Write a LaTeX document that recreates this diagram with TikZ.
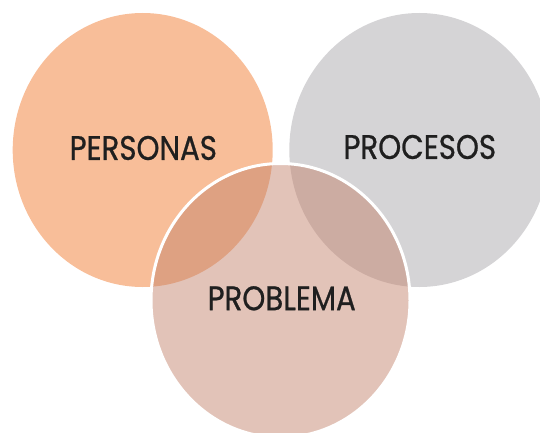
\documentclass[tikz,border=0pt]{standalone}
\usepackage{fontspec}
\setmainfont[FakeStretch=0.86,FakeBold=0.7]{Poppins}
\definecolor{cOrange}{RGB}{248,190,153}
\definecolor{cGray}{RGB}{213,212,214}
\definecolor{cBottom}{RGB}{195,130,107}
\tikzset{
  lbl/.style={inner sep=0pt, text=black!88, font=\fontsize{34}{34}\selectfont},
}
\begin{document}
\begin{tikzpicture}[x=1pt,y=-1pt]
\useasboundingbox (0,0) rectangle (540,433);
\clip (0,0) rectangle (540,433);
\fill[cOrange] (142.7,150) ellipse [x radius=130, y radius=137];
\fill[cGray] (419.3,150) ellipse [x radius=130, y radius=137];
\path[fill=cBottom, fill opacity=0.48, draw=white, line width=3pt] (280.5,300.5) ellipse [x radius=129.5, y radius=137];
\node[lbl] (personas) at (143.3,148) {PERSONAS};
\node[lbl] (procesos) at (419.8,147) {PROCESOS};
\node[lbl] (problema) at (281.7,298.3) {PROBLEMA};
\end{tikzpicture}
\end{document}
